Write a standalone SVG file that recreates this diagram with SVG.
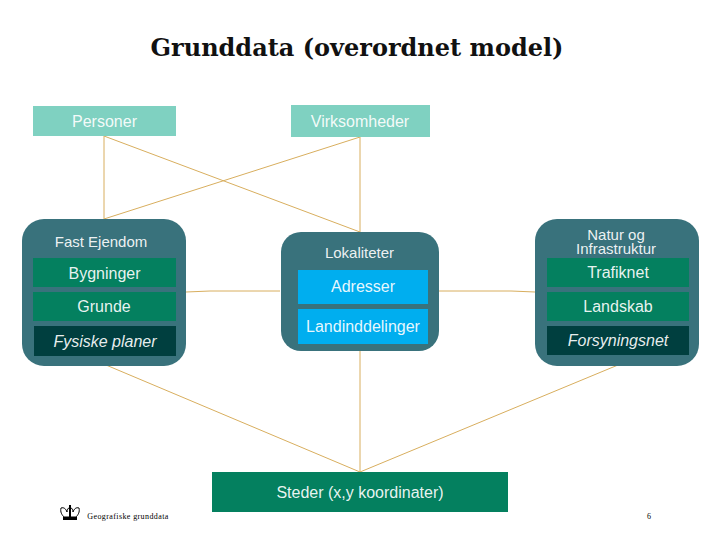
<svg xmlns="http://www.w3.org/2000/svg" width="720" height="540" viewBox="0 0 720 540">
<style>
text{font-family:"Liberation Sans",Arial,sans-serif;font-size:16px;fill:#fff;text-anchor:middle;fill-opacity:.92}
.i{font-style:italic}
.s{font-size:15px}
.c{fill:none;stroke:#d8ae5e;stroke-width:1}
.top{fill:#7fd1c1}
.box{fill:#39727c}
.g{fill:#04805f}
.d{fill:#003f3f}
.b{fill:#00aeef}
</style>
<rect width="720" height="540" fill="#fff"/>
<text x="357" y="56" style="font-family:'DejaVu Serif',serif;font-size:24px;font-weight:bold;fill:#111;fill-opacity:1">Grunddata (overordnet model)</text>
<g id="connectors">
<path class="c" d="M104 136V219M104 136L360 232M360 137V232M360 137L104 219M186 292L210 291H280M439 291H511L535 292M360 351V472M106 365L360 472M618 365L360 472"/>
</g>
<g id="personer"><rect class="top" x="33" y="106" width="143" height="30"/><text x="104.500" y="127">Personer</text></g>
<g id="virksomheder"><rect class="top" x="291" y="105" width="139" height="32"/><text x="360" y="127">Virksomheder</text></g>
<g id="fast-ejendom"><rect class="box" x="22" y="219" width="164" height="147" rx="22"/><text class="s" x="101" y="247">Fast Ejendom</text></g>
<g id="bygninger"><rect class="g" x="33" y="258" width="143" height="29"/><text x="104.500" y="279">Bygninger</text></g>
<g id="grunde"><rect class="g" x="33" y="292" width="143" height="29"/><text x="104" y="312">Grunde</text></g>
<g id="fysiske-planer"><rect class="d" x="34" y="326" width="142" height="30"/><text class="i" x="105" y="347">Fysiske planer</text></g>
<g id="lokaliteter"><rect class="box" x="281" y="232" width="158" height="119" rx="20"/><text class="s" x="359.500" y="258">Lokaliteter</text></g>
<g id="adresser"><rect class="b" x="298" y="270" width="130" height="34"/><text x="363" y="292">Adresser</text></g>
<g id="landinddelinger"><rect class="b" x="298" y="309" width="130" height="35"/><text x="363" y="332">Landinddelinger</text></g>
<g id="natur"><rect class="box" x="535" y="219" width="164" height="147" rx="22"/><text class="s" x="616" y="240">Natur og</text><text class="s" x="616" y="254">Infrastruktur</text></g>
<g id="trafiknet"><rect class="g" x="547" y="258" width="142" height="29"/><text x="618" y="278">Trafiknet</text></g>
<g id="landskab"><rect class="g" x="547" y="292" width="142" height="29"/><text x="618" y="312">Landskab</text></g>
<g id="forsyningsnet"><rect class="d" x="547" y="326" width="142" height="29"/><text class="i" x="618" y="346">Forsyningsnet</text></g>
<g id="steder"><rect class="g" x="212" y="472" width="296" height="40"/><text x="360" y="498">Steder (x,y koordinater)</text></g>
<g id="footer">
<path d="M61 508C60 512 62 515 64 517H76C78 515 80 512 79 508C76 507 74 509 73 512C73 510 72 508 70 507C68 508 67 510 67 512C66 509 64 507 61 508Z" fill="none" stroke="#000"/>
<rect x="63" y="517" width="14" height="3" fill="#000"/>
<rect x="69" y="505" width="2" height="12" fill="#000"/>
<text x="128" y="519" style="font-family:'Liberation Serif',serif;font-size:8px;letter-spacing:.4px;fill:#000;fill-opacity:1">Geografiske grunddata</text>
<text x="649" y="519" style="font-family:'Liberation Serif',serif;font-size:8px;fill:#000;fill-opacity:1">6</text>
</g>
</svg>
